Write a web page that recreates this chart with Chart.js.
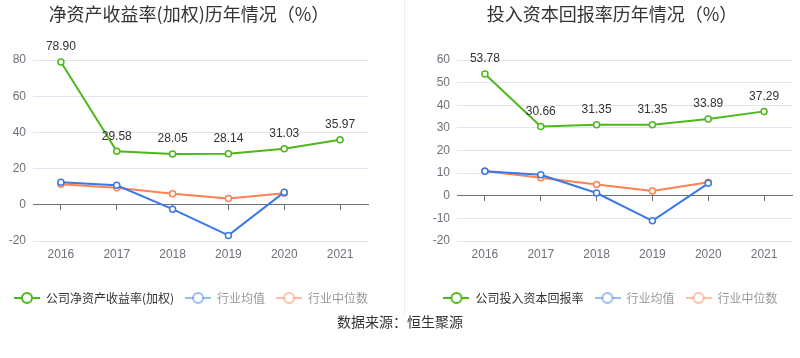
<!DOCTYPE html>
<html><head><meta charset="utf-8">
<script src="https://cdn.jsdelivr.net/npm/chart.js@4.4.0/dist/chart.umd.min.js"></script>
<style>
html,body{margin:0;padding:0;background:#fff;}
#wrap{position:relative;width:800px;height:358px;overflow:hidden;}
#c1box{position:absolute;left:0;top:0;width:404px;height:314px;}
#c2box{position:absolute;left:404px;top:0;width:396px;height:314px;border-left:1px solid #ececec;box-sizing:border-box;}
.ttl{position:absolute;top:2px;width:400px;text-align:center;font:18px "Noto Sans CJK SC";color:#333;line-height:22px;white-space:nowrap;}
#t1{left:-11px;}
#t2{left:412px;}
#src{position:absolute;left:0;width:800px;top:311px;text-align:center;font:14px "Noto Sans CJK SC";color:#333;line-height:20px;}
</style></head>
<body><div id="wrap">
<div id="c1box"><canvas id="c1"></canvas></div>
<div id="c2box"><canvas id="c2"></canvas></div>
<div class="ttl" id="t1">净资产收益率(加权)历年情况（%）</div>
<div class="ttl" id="t2">投入资本回报率历年情况（%）</div>
<div id="src">数据来源：恒生聚源</div>
</div>
<script>
const years = ['2016','2017','2018','2019','2020','2021'];
// 净资产收益率(加权)
const roeCompany = [78.90, 29.58, 28.05, 28.14, 31.03, 35.97];
const roeIndustryAvg = [12.5, 10.8, -2.4, -16.9, 7.0, null];
const roeIndustryMedian = [11.4, 9.4, 6.1, 3.5, 6.4, null];
const roeTicks = {min: -20, max: 80, step: 20};
// 投入资本回报率
const roicCompany = [53.78, 30.66, 31.35, 31.35, 33.89, 37.29];
const roicIndustryAvg = [10.8, 9.3, 1.2, -11.1, 5.5, null];
const roicIndustryMedian = [10.9, 8.0, 5.0, 2.1, 6.0, null];
const roicTicks = {min: -20, max: 60, step: 10};

const GREEN = '#4cb81a', BLUE = '#3b78e7', ORANGE = '#ff8050';
const NUM_FONT = '"Liberation Sans", Arial, sans-serif';
const CJK_FONT = '"Noto Sans CJK SC", sans-serif';

function legendIcon(color, alpha) {
  const c = document.createElement('canvas');
  c.width = 26; c.height = 14;
  const g = c.getContext('2d');
  g.globalAlpha = alpha;
  g.strokeStyle = color; g.lineWidth = 2;
  g.beginPath(); g.moveTo(0, 7); g.lineTo(26, 7); g.stroke();
  g.globalAlpha = 1;
  g.fillStyle = '#fff';
  g.beginPath(); g.arc(13, 7, 5, 0, Math.PI * 2); g.fill();
  g.globalAlpha = alpha;
  g.beginPath(); g.arc(13, 7, 5, 0, Math.PI * 2); g.stroke();
  return c;
}

const valueLabels = {
  id: 'valueLabels',
  afterDatasetsDraw(chart) {
    const ctx = chart.ctx;
    const meta = chart.getDatasetMeta(0);
    const data = chart.data.datasets[0].data;
    ctx.save();
    ctx.font = '12px ' + NUM_FONT;
    ctx.fillStyle = '#333';
    ctx.textAlign = 'center';
    ctx.textBaseline = 'middle';
    meta.data.forEach((pt, i) => {
      if (data[i] == null) return;
      ctx.fillText(data[i].toFixed(2), pt.x, pt.y - 15);
    });
    ctx.restore();
  }
};

function makeChart(id, name, company, avg, median, ticks, padLeft, yWidth, rightGap, legendAlign) {
  const mk = (label, data, color) => ({
    label, data, borderColor: color, backgroundColor: color,
    borderWidth: 2, pointRadius: 3, pointHoverRadius: 3,
    pointBackgroundColor: '#fff', pointBorderColor: color, pointBorderWidth: 1.5,
    tension: 0, xAxisID: 'x', yAxisID: 'y', clip: false
  });
  const icons = [legendIcon(GREEN, 1), legendIcon(BLUE, 0.5), legendIcon(ORANGE, 0.5)];
  const textColors = ['#333', '#999', '#999'];
  return new Chart(document.getElementById(id), {
    type: 'line',
    data: {
      labels: years,
      datasets: [mk(name, company, GREEN), mk('行业均值', avg, BLUE), mk('行业中位数', median, ORANGE)]
    },
    options: {
      responsive: true, maintainAspectRatio: false, animation: false,
      layout: {padding: {left: padLeft, right: 0, top: 60, bottom: 0}},
      plugins: {
        title: {display: false},
        legend: {
          position: 'bottom', align: legendAlign,
          labels: {
            usePointStyle: true, pointStyleWidth: 26, padding: 11,
            font: {family: CJK_FONT, size: 12},
            generateLabels: (chart) => chart.data.datasets.map((ds, i) => ({
              text: ds.label, pointStyle: icons[i], fontColor: textColors[i],
              fillStyle: ds.borderColor, strokeStyle: ds.borderColor, lineWidth: 0,
              hidden: false, datasetIndex: i
            }))
          }
        },
        tooltip: {enabled: false}
      },
      scales: {
        x: {
          type: 'category', position: 'bottom', offset: true,
          grid: {display: false}, border: {display: false},
          ticks: {color: '#6e7079', padding: -2, font: {family: NUM_FONT, size: 12}},
          afterFit: (s) => { s.height = 40; }
        },
        x0: {
          type: 'category', position: {y: 0}, offset: true,
          grid: {display: true, drawOnChartArea: false, drawTicks: true, tickLength: 5, color: '#6e7079'},
          border: {display: true, color: '#6e7079', width: 1},
          ticks: {display: false}
        },
        y: {
          min: ticks.min, max: ticks.max,
          ticks: {stepSize: ticks.step, color: '#6e7079', padding: 7, font: {family: NUM_FONT, size: 12}},
          grid: {color: '#e0e6f1', drawTicks: false},
          border: {display: false},
          afterFit: (s) => { s.width = yWidth; }
        },
        yGap: {
          type: 'linear', position: 'right',
          ticks: {display: false}, grid: {display: false}, border: {display: false},
          afterFit: (s) => { s.width = rightGap; }
        }
      }
    },
    plugins: [valueLabels]
  });
}

makeChart('c1', '公司净资产收益率(加权)', roeCompany, roeIndustryAvg, roeIndustryMedian, roeTicks, 3, 30, 36, 'start');
makeChart('c2', '公司投入资本回报率', roicCompany, roicIndustryAvg, roicIndustryMedian, roicTicks, 16, 36, 8, 'center');
</script>
</body></html>
